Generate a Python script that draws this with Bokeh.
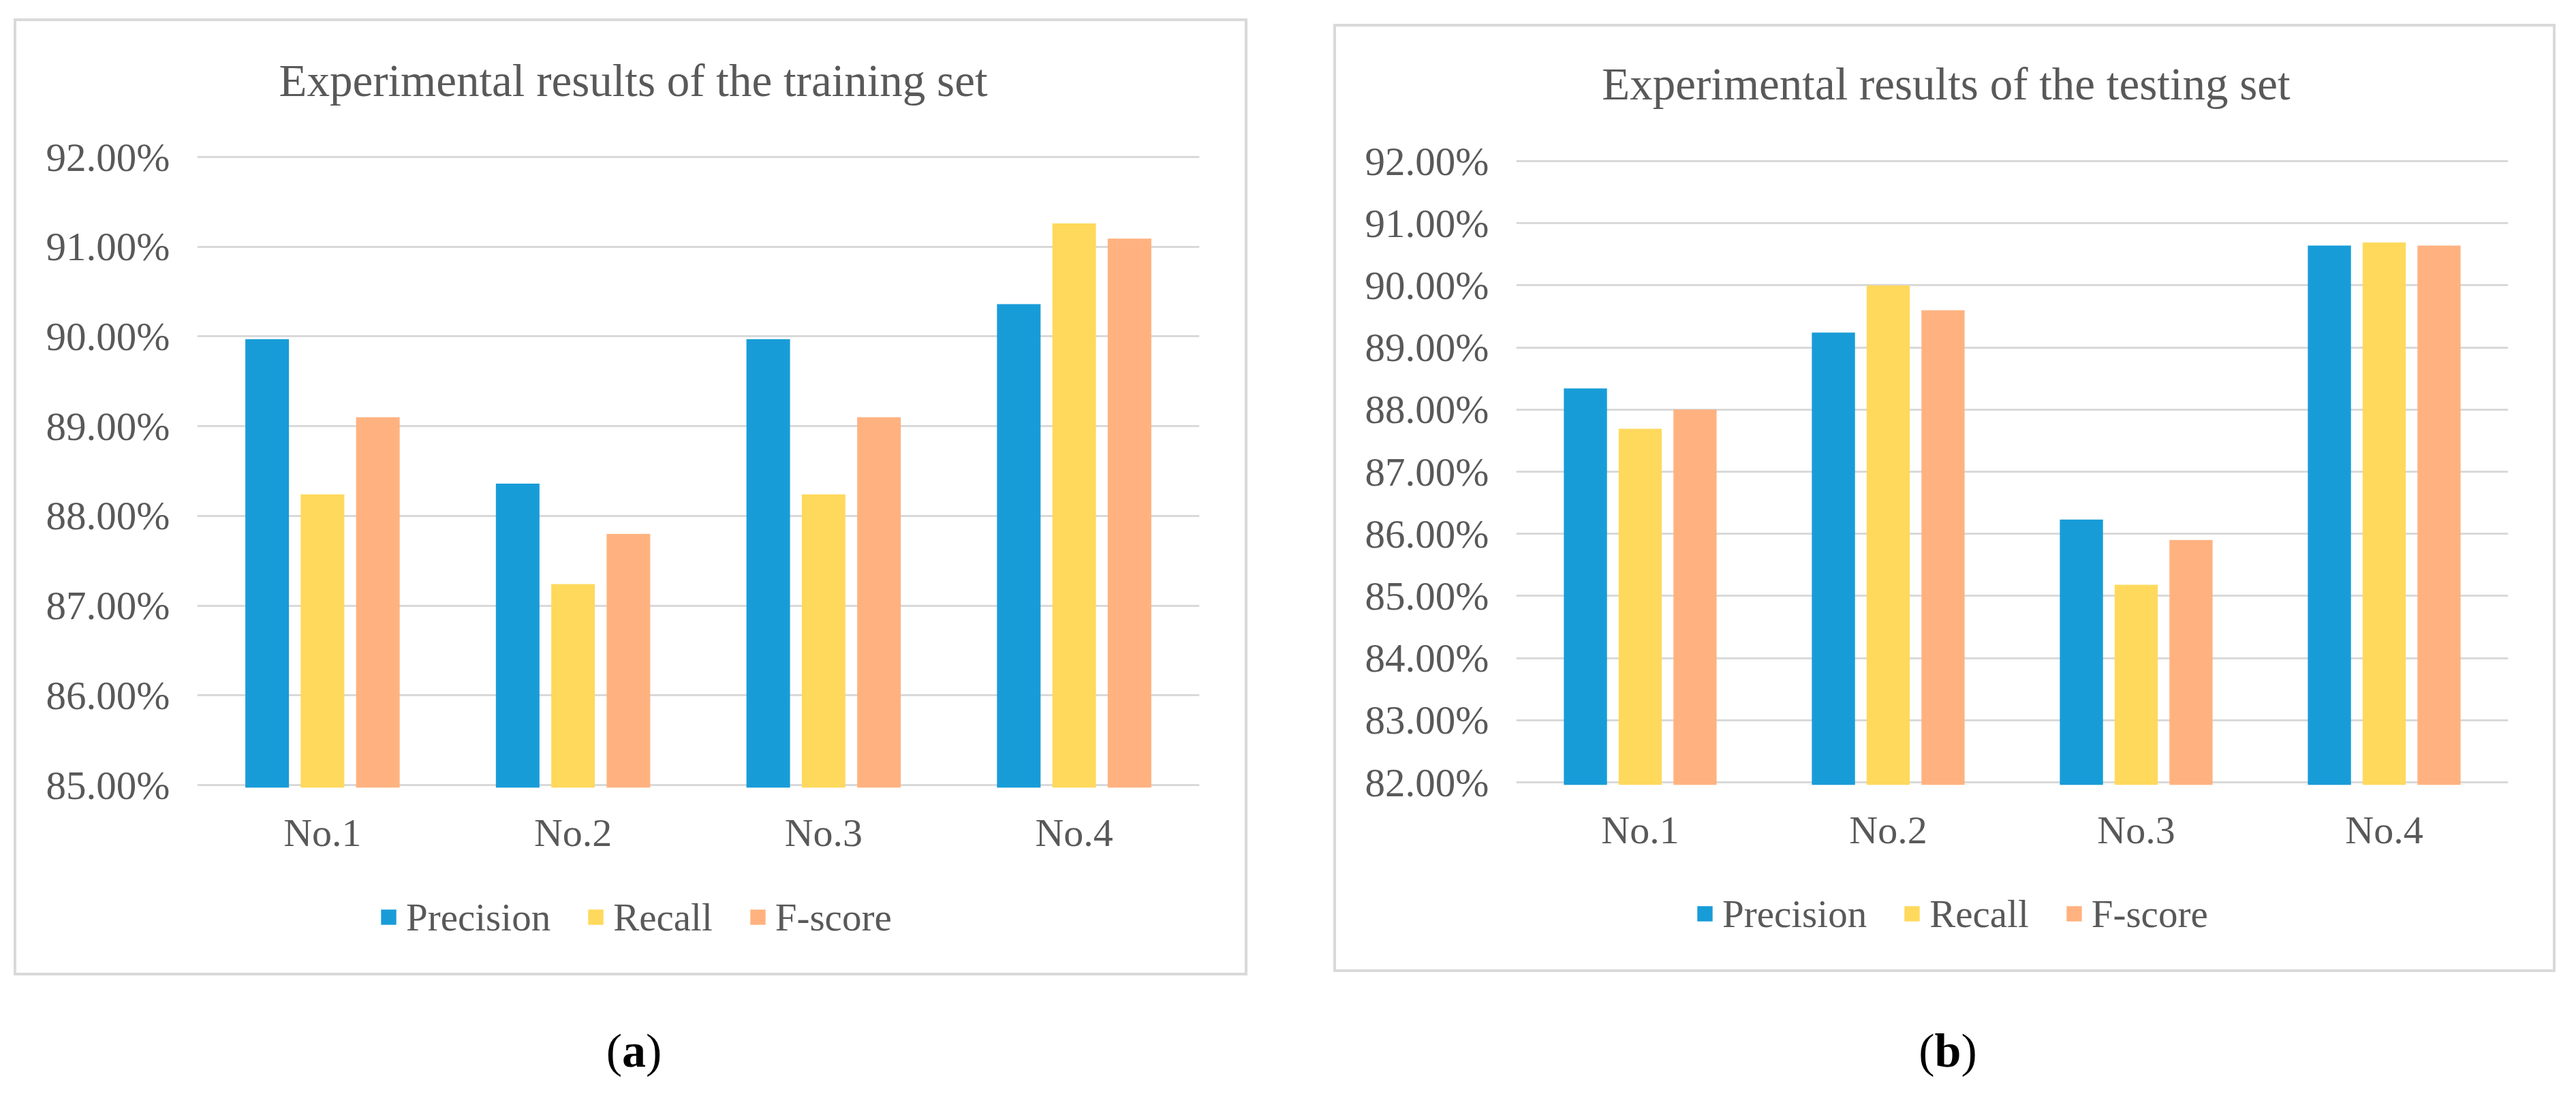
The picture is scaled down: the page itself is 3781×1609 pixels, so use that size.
from bokeh.plotting import figure
from bokeh.models import (FactorRange, Range1d, FixedTicker, PrintfTickFormatter,
                          Legend, LegendItem, Div, Spacer, ColumnDataSource, Label)
from bokeh.transform import dodge
from bokeh.layouts import row, column
from bokeh.embed import file_html
from bokeh.resources import INLINE

# ---------------- data ----------------
categories = ["No.1", "No.2", "No.3", "No.4"]
series_names = ["Precision", "Recall", "F-score"]

train_precision = [89.97, 88.36, 89.97, 90.36]
train_recall = [88.24, 87.24, 88.24, 91.26]
train_fscore = [89.10, 87.80, 89.10, 91.09]

test_precision = [88.34, 89.24, 86.23, 90.64]
test_recall = [87.69, 90.00, 85.18, 90.69]
test_fscore = [88.00, 89.60, 85.90, 90.64]

train_ticks = [85, 86, 87, 88, 89, 90, 91, 92]
test_ticks = [82, 83, 84, 85, 86, 87, 88, 89, 90, 91, 92]

train_title = "Experimental results of the training set"
test_title = "Experimental results of the testing set"

# ---------------- style ----------------
COLORS = ["#189CD8", "#FFD95C", "#FFB280"]
FONT = "Liberation Serif"
TEXT = "#595959"
GRID = "#D9D9D9"


def blank_fig(W, H, frame_w):
    # frames in a column are aligned with the main chart's frame,
    # so the x range spans that frame's width
    f = figure(width=W, height=H, output_backend="svg", toolbar_location=None,
               x_range=Range1d(0, frame_w), y_range=Range1d(0, H),
               x_axis_type=None, y_axis_type=None,
               min_border=0, min_border_left=0, min_border_right=0,
               min_border_top=0, min_border_bottom=0)
    f.border_fill_color = None
    f.background_fill_color = None
    f.outline_line_color = None
    f.xgrid.grid_line_color = None
    f.ygrid.grid_line_color = None
    return f


def make_panel(title, prec, rec, fs, ticks, W, title_h, title_x, title_y,
               main_h, frame_top, frame_bottom, frame_left, border_right,
               legend_h, legend_x, legend_y):
    frame_w = W - frame_left - border_right
    # ---- title strip ----
    ft = blank_fig(W, title_h, frame_w)
    ft.add_layout(Label(x=title_x, y=title_y, text=title, text_align="center",
                        text_baseline="alphabetic", text_font=FONT,
                        text_font_size="67px", text_color=TEXT))

    # ---- main chart ----
    ymin, ymax = ticks[0], ticks[-1]
    pad_px = 4
    ppu = (frame_bottom - frame_top - 2 * pad_px) / (ymax - ymin)
    pad = pad_px / ppu
    src = ColumnDataSource(dict(cat=categories, p=prec, r=rec, f=fs))
    p = figure(width=W, height=main_h, output_backend="svg", toolbar_location=None,
               x_range=FactorRange(*categories),
               y_range=Range1d(ymin - pad, ymax + pad),
               min_border_left=frame_left, min_border_right=border_right,
               min_border_top=frame_top, min_border_bottom=main_h - frame_bottom)
    p.border_fill_color = None
    p.background_fill_color = None
    p.outline_line_color = None

    w = 0.174
    pitch = 0.221
    for key, off, col in zip(["p", "r", "f"], [-pitch, 0.0, pitch], COLORS):
        p.vbar(x=dodge("cat", off, range=p.x_range), top=key, bottom=ymin - pad,
               width=w, source=src, fill_color=col, line_color=None)

    p.yaxis.ticker = FixedTicker(ticks=ticks)
    p.yaxis.formatter = PrintfTickFormatter(format="%.2f%%")
    for ax in (p.xaxis, p.yaxis):
        ax.axis_line_color = None
        ax.major_tick_line_color = None
        ax.minor_tick_line_color = None
        ax.major_tick_out = 0
        ax.major_tick_in = 0
        ax.major_label_text_font = FONT
        ax.major_label_text_color = TEXT
    p.yaxis.major_label_text_font_size = "59px"
    p.yaxis.major_label_standoff = 40
    p.xaxis.major_label_text_font_size = "58px"
    p.xaxis.major_label_standoff = 33

    p.xgrid.grid_line_color = None
    p.ygrid.grid_line_color = GRID
    p.ygrid.grid_line_width = 3
    p.ygrid.ticker = FixedTicker(ticks=ticks)

    # ---- legend strip (swatch renderers sit outside the visible range) ----
    fl = blank_fig(W, legend_h, frame_w)
    rs = [fl.vbar(x=[-1000], top=[0], bottom=[0], width=1, fill_color=col, line_color=None)
          for col in COLORS]
    legend = Legend(items=[LegendItem(label=n, renderers=[r]) for n, r in zip(series_names, rs)],
                    orientation="horizontal", location=(legend_x, legend_y),
                    glyph_width=28, glyph_height=28, label_standoff=12, spacing=52,
                    label_height=66, padding=0, margin=0, border_line_color=None,
                    background_fill_alpha=0,
                    label_text_font=FONT, label_text_font_size="57px", label_text_color=TEXT)
    fl.add_layout(legend)

    return column(ft, p, fl, styles={"outline": "4px solid #D9D9D9", "outline-offset": "-4px"})


# left panel: page box x 28..1839, y 35..1440
pa = make_panel(train_title, train_precision, train_recall, train_fscore, train_ticks,
                W=1811, title_h=155, title_x=640, title_y=65,
                main_h=1100, frame_top=44, frame_bottom=974, frame_left=269, border_right=71,
                legend_h=150, legend_x=267, legend_y=53)
# right panel: page box x 1955..3749, y 43..1435
pb = make_panel(test_title, test_precision, test_recall, test_fscore, test_ticks,
                W=1794, title_h=147, title_x=631, title_y=60,
                main_h=1100, frame_top=50, frame_bottom=970, frame_left=268, border_right=70,
                legend_h=145, legend_x=263, legend_y=53)


def caption(letter, W):
    return Div(text="(<b>%s</b>)" % letter, width=W, height=80,
               styles={"font-family": FONT, "font-size": "70px", "color": "#000000",
                       "text-align": "center", "line-height": "80px", "width": "%dpx" % W})


layout = row(
    Spacer(width=20),
    column(Spacer(height=27), pa, Spacer(height=66), caption("a", 1811)),
    Spacer(width=116),
    column(Spacer(height=35), pb, Spacer(height=71), caption("b", 1794)),
)

open("out.html", "w").write(file_html(layout, INLINE))
